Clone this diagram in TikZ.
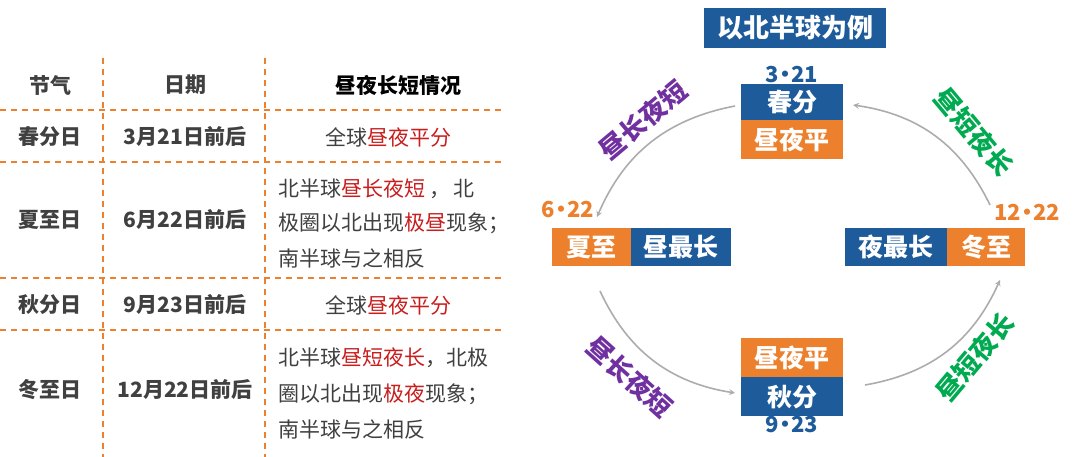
\documentclass[tikz,border=0pt]{standalone}
\usepackage{fontspec}
\setmainfont{Noto Sans CJK SC}
\usetikzlibrary{positioning}
\definecolor{myblue}{RGB}{29,91,155}
\definecolor{myorange}{RGB}{236,128,44}
\definecolor{mygray}{RGB}{64,64,64}
\definecolor{myred}{RGB}{200,30,30}
\definecolor{mypurple}{RGB}{112,48,160}
\definecolor{mygreen}{RGB}{0,170,80}
\newcommand{\hl}[1]{\textcolor{myred}{#1}}
\newcommand{\dt}{\kern-5pt•\kern-5pt}
\begin{document}
\begin{tikzpicture}[x=1pt, y=-1pt,
  cell/.style={text=mygray, font=\fontsize{21}{25}\selectfont\bfseries},
  desc/.style={text=mygray, anchor=west, font=\fontsize{21}{25}\selectfont},
  grid/.style={myorange, dashed, line width=1.2pt, dash pattern=on 6pt off 5pt},
  bluebox/.style={fill=myblue, text=white, inner sep=0pt, font=\fontsize{25}{29}\selectfont\bfseries},
  orangebox/.style={fill=myorange, text=white, inner sep=0pt, font=\fontsize{25}{29}\selectfont\bfseries},
  date/.style={font=\fontsize{22}{26}\selectfont\bfseries},
  flow/.style={->, >=stealth, draw=gray!65, line width=1.6pt},
  season/.style={font=\fontsize{26}{30}\selectfont\bfseries}]
  \useasboundingbox (0,0) rectangle (1080,457);

  % table grid
  \draw[grid] (103,58) -- (103,457);
  \draw[grid] (265,58) -- (265,457);
  \foreach \yy in {110,162,278,330}
    \draw[grid] (0,\yy) -- (505,\yy);

  % table text
  \node[cell] (h1) at (50,85) {节气};
  \node[cell] (h2) at (185,85) {日期};
  \node[cell, text=black] (h3) at (398,85) {昼夜长短情况};
  \node[cell] (r1a) at (50,137) {春分日};
  \node[cell] (r1b) at (185,137) {3月21日前后};
  \node[desc] (r1c) at (322,137) {全球\hl{昼夜平分}};
  \node[cell] (r2a) at (50,220) {夏至日};
  \node[cell] (r2b) at (185,220) {6月22日前后};
  \node[desc] (r2c1) at (275,189) {北半球\hl{昼长夜短}\,，\,北};
  \node[desc] (r2c2) at (275,223) {极圈以北出现\hl{极昼}现象；};
  \node[desc] (r2c3) at (275,258) {南半球与之相反};
  \node[cell] (r3a) at (50,305) {秋分日};
  \node[cell] (r3b) at (185,305) {9月23日前后};
  \node[desc] (r3c) at (322,305) {全球\hl{昼夜平分}};
  \node[cell] (r4a) at (50,390) {冬至日};
  \node[cell] (r4b) at (185,390) {12月22日前后};
  \node[desc] (r4c1) at (275,358) {北半球\hl{昼短夜长}，北极};
  \node[desc] (r4c2) at (275,394) {圈以北出现\hl{极夜}现象；};
  \node[desc] (r4c3) at (275,429) {南半球与之相反};

  % title
  \node[bluebox, minimum width=182pt, minimum height=40pt, font=\fontsize{26}{30}\selectfont\bfseries] (title) at (795,28) {以北半球为例};

  % spring
  \node[bluebox, minimum width=102pt, minimum height=36pt] (chun) at (792,102) {春分};
  \node[orangebox, minimum width=102pt, minimum height=39pt, below=0pt of chun] (chunp) {昼夜平};
  \node[date, text=myblue, above=-3pt of chun] (d321) {3\dt21};

  % summer
  \node[orangebox, minimum width=79pt, minimum height=38pt] (xia) at (591.5,247) {夏至};
  \node[bluebox, minimum width=100pt, minimum height=38pt, right=0pt of xia] (xial) {昼最长};
  \node[date, text=myorange] (d622) at (568,210) {6\dt22};

  % winter
  \node[bluebox, minimum width=102pt, minimum height=38pt] (dongl) at (896,247) {夜最长};
  \node[orangebox, minimum width=78pt, minimum height=38pt, right=0pt of dongl] (dong) {冬至};
  \node[date, text=myorange] (d1222) at (1027,212) {12\dt22};

  % autumn
  \node[orangebox, minimum width=102pt, minimum height=39pt] (qiup) at (792,357.5) {昼夜平};
  \node[bluebox, minimum width=102pt, minimum height=39pt, below=0pt of qiup] (qiu) {秋分};
  \node[date, text=myblue, below=-4pt of qiu] (d923) {9\dt23};

  % arrows
  \coordinate (a1) at (735,106);
  \coordinate (a2) at (597,217);
  \coordinate (b1) at (600,291);
  \coordinate (b2) at (735,393);
  \coordinate (c1) at (865,385);
  \coordinate (c2) at (1000,280);
  \coordinate (e1) at (990,205);
  \coordinate (e2) at (853,105);
  \draw[flow] (a1) to[bend right=28] (a2);
  \draw[flow] (b1) to[bend right=28] (b2);
  \draw[flow] (c1) to[bend right=28] (c2);
  \draw[flow] (e1) to[bend right=28] (e2);

  % arrow labels
  \node[season, text=mypurple, rotate=40] (l1) at (643,120) {昼长夜短};
  \node[season, text=mygreen, rotate=-50] (l2) at (974,132) {昼短夜长};
  \node[season, text=mypurple, rotate=-42] (l3) at (630,377) {昼长夜短};
  \node[season, text=mygreen, rotate=50] (l4) at (975,357) {昼短夜长};
\end{tikzpicture}
\end{document}
